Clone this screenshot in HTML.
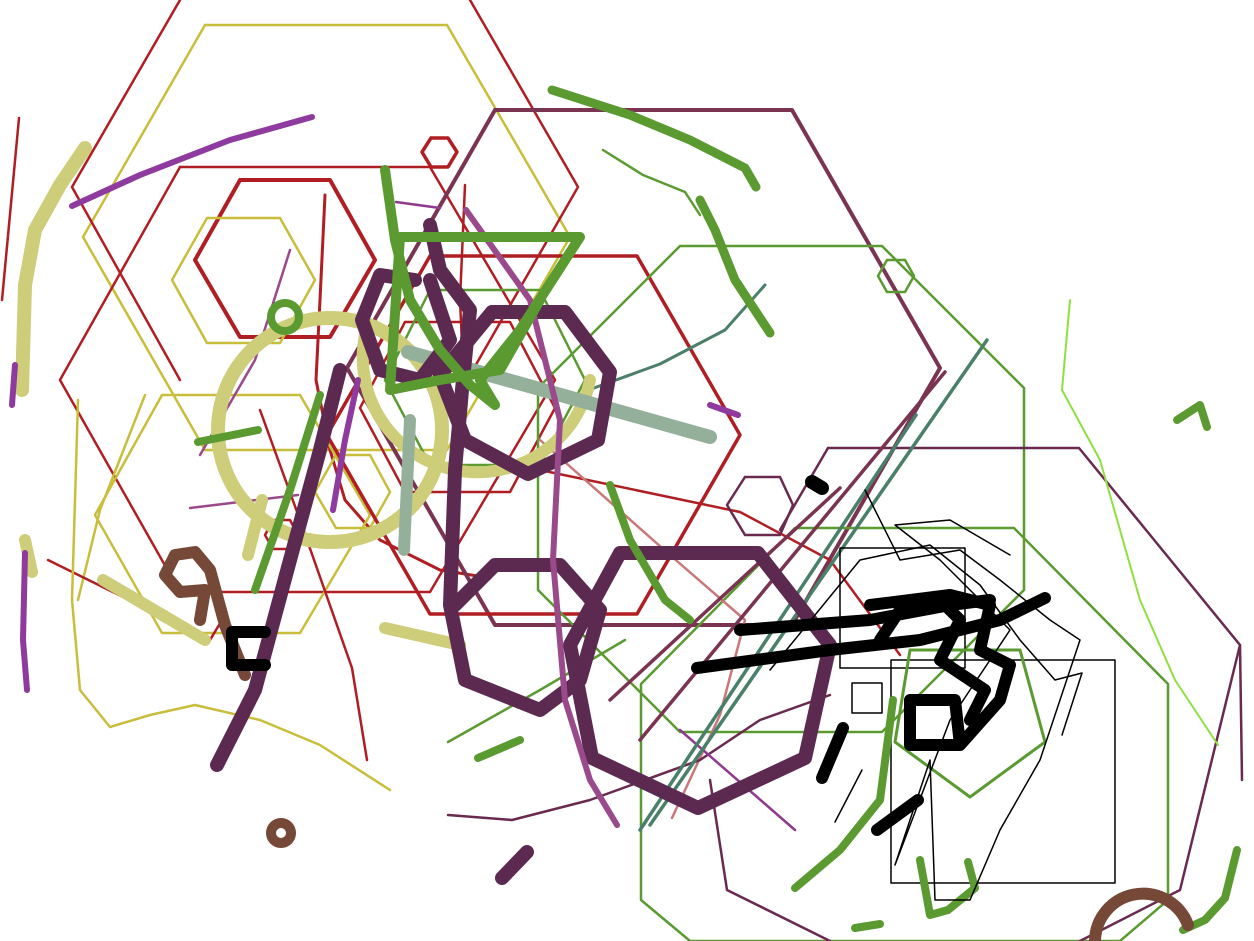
<!DOCTYPE html>
<html><head><meta charset="utf-8"><style>html,body{margin:0;padding:0;background:#fff;width:1254px;height:941px;overflow:hidden}</style></head>
<body>
<svg width="1254" height="941" viewBox="0 0 1254 941" fill="none" stroke-linecap="round" stroke-linejoin="round">
<g>
<polyline stroke="#c8be3c" stroke-width="2.5" points="205,25 447,25 570,237 447,450 205,450 83,237 205,25"/>
<polyline stroke="#b01e24" stroke-width="2.5" points="180,0 72,187 180,380"/>
<polyline stroke="#b01e24" stroke-width="2.5" points="470,0 578,187 470,375"/>
<polyline stroke="#b01e24" stroke-width="2.5" points="180,167 430,167 555,380 430,592 180,592 60,380 180,167"/>
<polyline stroke="#b01e24" stroke-width="4" points="240,180 330,180 375,260 330,337 240,337 195,260 240,180"/>
<polyline stroke="#b01e24" stroke-width="3" points="325,195 320,300 316,380 330,450 345,500 380,540 440,570 490,578"/>
<polyline stroke="#b01e24" stroke-width="2.5" points="465,185 460,300 465,410"/>
<polyline stroke="#c8be3c" stroke-width="2.5" points="207,218 280,218 315,280 280,343 207,343 172,280 207,218"/>
<polyline stroke="#c8be3c" stroke-width="2.5" points="162,395 300,395 370,515 300,633 162,633 95,515 162,395"/>
<polyline stroke="#c8be3c" stroke-width="2.5" points="336,455 370,455 390,492 370,528 336,528 315,492 336,455"/>
<polyline stroke="#c8be3c" stroke-width="2.5" points="145,395 100,510 78,600"/>
<polyline stroke="#7a3350" stroke-width="4" points="495,110 792,110 940,368 792,625 495,625 347,368 495,110"/>
<polyline stroke="#b01e24" stroke-width="3.5" points="430,256 637,256 740,435 637,614 430,614 327,435 430,256"/>
<polyline stroke="#b01e24" stroke-width="2.5" points="405,322 510,322 555,408 510,492 405,492 360,408 405,322"/>
<polyline stroke="#5a9a30" stroke-width="2.5" points="680,246 882,246 1024,388 1024,590 882,732 680,732 538,590 538,388 680,246"/>
<polyline stroke="#5a9a30" stroke-width="2.5" points="795,528 1014,528 1168,684 1168,900 1120,941 690,941 641,900 641,684 795,528"/>
<polyline stroke="#6a2a50" stroke-width="2.5" points="828,448 1079,448 1240,645 1180,890 1080,941"/>
<polyline stroke="#6a2a50" stroke-width="2.5" points="828,448 780,530"/>
<polyline stroke="#6a2a50" stroke-width="2.5" points="1240,645 1242,780"/>
<polyline stroke="#5a9a30" stroke-width="2.5" points="430,290 540,290 585,380 540,465 430,465 385,380 430,290"/>
<polyline stroke="#b01e24" stroke-width="2.5" points="19,118 2,300"/>
<polyline stroke="#b01e24" stroke-width="2.5" points="48,560 210,640 222,620"/>
<polyline stroke="#b01e24" stroke-width="2.5" points="260,410 300,520 352,668 367,760"/>
<polyline stroke="#b01e24" stroke-width="2.5" points="540,470 740,512 830,560 900,655"/>
<polyline stroke="#c8be3c" stroke-width="2.5" points="78,400 72,600 80,690 110,727 150,715 195,705 260,720 320,745 390,790"/>
<polyline stroke="#c87878" stroke-width="2.5" points="540,440 670,555 745,620 720,715 672,818"/>
<polyline stroke="#8ee040" stroke-width="2" points="1070,300 1062,390 1100,460 1140,600 1175,680 1218,745"/>
<polyline stroke="#6a2a50" stroke-width="2.5" points="448,815 512,820 590,800 700,760 760,720 830,695"/>
<polyline stroke="#6a2a50" stroke-width="2.5" points="710,780 727,890 830,941"/>
<polyline stroke="#5a9a30" stroke-width="2.5" points="603,150 643,175 685,192 700,215"/>
<polyline stroke="#4a806a" stroke-width="3" points="583,392 660,364 725,330 765,285"/>
<polyline stroke="#8e3a8e" stroke-width="2.5" points="396,202 440,208"/>
<polyline stroke="#8e3a8e" stroke-width="2.5" points="680,730 795,830"/>
<polyline stroke="#4a806a" stroke-width="3.5" points="987,340 650,825"/>
<polyline stroke="#4a806a" stroke-width="3.5" points="916,415 640,830"/>
<polyline stroke="#7a3350" stroke-width="3.5" points="945,372 640,740"/>
<polyline stroke="#7a3350" stroke-width="3.5" points="840,488 610,700"/>
<polyline stroke="#5a9a30" stroke-width="2.5" points="448,742 540,690 625,640"/>
<rect x="891" y="660" width="224" height="223" stroke="#000" stroke-width="1.5"/>
<rect x="852" y="683" width="30" height="30" stroke="#000" stroke-width="1.5"/>
<rect x="840" y="548" width="125" height="120" stroke="#000" stroke-width="1.5"/>
<polyline stroke="#5a9a30" stroke-width="3" points="910,650 1020,650 1045,742 970,797 895,742 910,650"/>
<polyline stroke="#6a2a50" stroke-width="2.5" points="745,477 780,477 793,505 780,535 745,535 727,505 745,477"/>
<polyline stroke="#5a9a30" stroke-width="2.5" points="887,260 905,260 914,276 905,292 887,292 878,276 887,260"/>
<polyline stroke="#b01e24" stroke-width="3.5" points="431,138 448,138 457,152 448,167 431,167 422,152 431,138"/>
<polyline stroke="#b01e24" stroke-width="2.5" points="273,520 290,520 298,535 290,549 273,549 265,535 273,520"/>
<polyline stroke="#9a4a8a" stroke-width="2.5" points="290,250 255,360 200,455"/>
<polyline stroke="#9a4a8a" stroke-width="2.5" points="190,508 298,495"/>
</g>
<g>
<circle cx="330" cy="430" r="112" stroke="#cdcd7a" stroke-width="14"/>
<path d="M365,335 A110,110 0 1 0 590,380" stroke="#cdcd7a" stroke-width="12"/>
<polyline stroke="#cdcd7a" stroke-width="14" points="85,148 60,185 35,230 25,285 22,390"/>
<polyline stroke="#cdcd7a" stroke-width="12" points="25,540 32,572"/>
<polyline stroke="#cdcd7a" stroke-width="12" points="103,580 205,640"/>
<polyline stroke="#cdcd7a" stroke-width="12" points="385,628 460,645"/>
<polyline stroke="#cdcd7a" stroke-width="12" points="262,500 248,555"/>
<polyline stroke="#95b09a" stroke-width="14" points="408,352 710,437"/>
<polyline stroke="#95b09a" stroke-width="12" points="410,420 404,550"/>
<polyline stroke="#5c2a50" stroke-width="14" points="620,553 758,553 830,645 805,758 698,808 592,758 570,645 620,553"/>
<polyline stroke="#5c2a50" stroke-width="14" points="492,312 565,312 610,372 598,440 528,474 465,440 440,375 492,312"/>
<polyline stroke="#5c2a50" stroke-width="14" points="430,225 440,270 470,310 462,390 455,470 450,605 465,680 540,710 580,680 600,610 560,565 495,565 455,605"/>
<polyline stroke="#5c2a50" stroke-width="14" points="415,280 380,275 362,320 380,370 420,380 450,340 430,280"/>
<polyline stroke="#5c2a50" stroke-width="14" points="340,370 320,450 290,560 255,690 217,765"/>
<polyline stroke="#5c2a50" stroke-width="14" points="527,852 502,878"/>
<polyline stroke="#9a4a8a" stroke-width="6" points="466,210 530,300 560,420 553,560 565,700 590,780 617,825"/>
<polyline stroke="#8e3a9e" stroke-width="6" points="72,206 140,175 230,140 312,117"/>
<polyline stroke="#8e3a9e" stroke-width="6" points="25,553 23,640 27,690"/>
<polyline stroke="#8e3a9e" stroke-width="6" points="15,365 12,405"/>
<polyline stroke="#8e3a9e" stroke-width="6" points="358,380 345,440 333,510"/>
<polyline stroke="#8e3a9e" stroke-width="6" points="710,405 738,415"/>
<polyline stroke="#5a9a30" stroke-width="9" points="552,90 630,115 690,140 745,168 756,187"/>
<polyline stroke="#5a9a30" stroke-width="9" points="700,200 715,230 735,280 770,333"/>
<polyline stroke="#5a9a30" stroke-width="10" points="385,170 395,240 410,300 440,350 470,385 495,405 480,380 520,330 580,237 400,237 390,390 440,380 500,370 540,300"/>
<polyline stroke="#5a9a30" stroke-width="8" points="320,395 290,490 255,590"/>
<polyline stroke="#5a9a30" stroke-width="8" points="198,442 258,430"/>
<polyline stroke="#5a9a30" stroke-width="8" points="610,485 630,540 665,600 690,620"/>
<polyline stroke="#5a9a30" stroke-width="8" points="893,700 880,800 840,850 795,888"/>
<polyline stroke="#5a9a30" stroke-width="8" points="920,860 930,915 948,910 975,888 968,862"/>
<polyline stroke="#5a9a30" stroke-width="8" points="1237,850 1225,898 1205,920 1183,930"/>
<polyline stroke="#5a9a30" stroke-width="8" points="1177,420 1200,405 1207,427"/>
<polyline stroke="#5a9a30" stroke-width="8" points="478,758 520,740"/>
<polyline stroke="#5a9a30" stroke-width="8" points="855,928 880,924"/>
<circle cx="285" cy="317" r="14" stroke="#5a9a30" stroke-width="8"/>
<polyline stroke="#754838" stroke-width="12" points="245,675 225,625 210,570 195,552 175,555 165,575 180,592 205,590 200,620"/>
<circle cx="281" cy="833" r="10" stroke="#754838" stroke-width="10"/>
<path d="M1095,941 A48,48 0 0 1 1188,925" stroke="#754838" stroke-width="12"/>
<polyline stroke="#000" stroke-width="12" points="697,668 830,650 920,640 1000,620 1045,598"/>
<polyline stroke="#000" stroke-width="12" points="740,630 870,620 950,605 990,600"/>
<polyline stroke="#000" stroke-width="12" points="870,605 950,595 990,605 980,650 1010,665 1000,700 960,745 910,745 910,700 955,700 960,745"/>
<polyline stroke="#000" stroke-width="12" points="880,640 900,610 940,600 960,620 940,660 985,690 970,720"/>
<polyline stroke="#000" stroke-width="12" points="843,728 822,778"/>
<polyline stroke="#000" stroke-width="12" points="918,800 877,830"/>
<polyline stroke="#000" stroke-width="12" points="265,632 232,632 232,665 265,665"/>
<polyline stroke="#000" stroke-width="14" points="812,482 822,488"/>
<polyline stroke="#000" stroke-width="1.5" points="865,490 900,560 960,550 1000,580 1050,620 1080,640 1060,700 1040,760 1000,830 970,900 935,900 930,760 895,865 950,720 1010,630 940,560 895,525 950,520 1010,555"/>
<polyline stroke="#000" stroke-width="1.5" points="770,670 860,560 930,545 980,585 1020,640 1055,680 1082,673 1062,735 M0,0"/>
<polyline stroke="#000" stroke-width="1.5" points="862,770 835,822"/>
</g>
</svg>
</body></html>
